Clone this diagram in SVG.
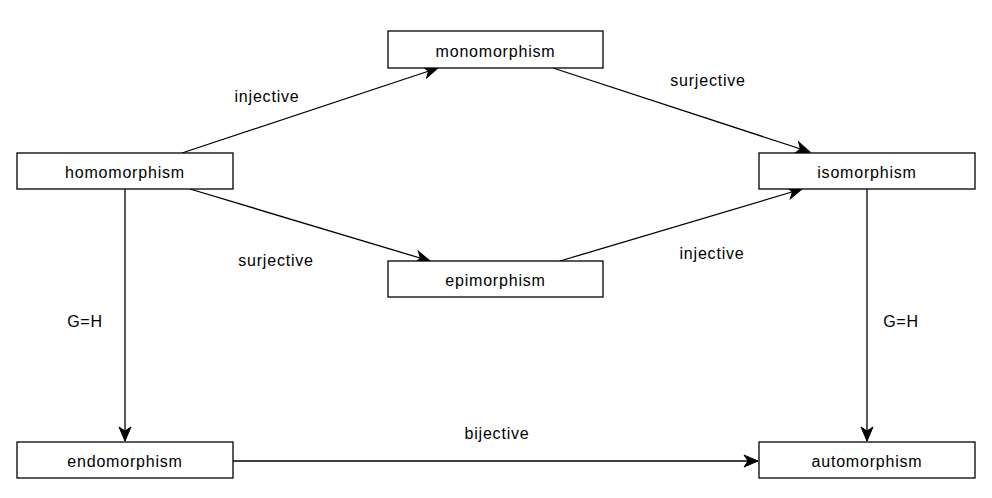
<svg xmlns="http://www.w3.org/2000/svg" width="992" height="498" viewBox="0 0 992 498">
<style>
.node rect{fill:#fff;stroke:#000;stroke-width:1.3}
text{font-family:"Liberation Sans",Arial,sans-serif;font-size:16px;letter-spacing:0.8px;fill:#000;text-anchor:middle}
.edges path{fill:none;stroke:#000;stroke-width:1.3}
</style>
<defs>
<marker id="arr" markerUnits="userSpaceOnUse" markerWidth="16" markerHeight="14" refX="14" refY="6" orient="auto" overflow="visible">
<path d="M0,0 L14,6 L0,12 L4,6 Z" fill="#000" stroke="#000" stroke-width="1"/>
</marker>
</defs>
<rect width="992" height="498" fill="#fff"/>
<g class="edges">
<path d="M182,153 L438,68" marker-end="url(#arr)"/>
<path d="M553,68 L810,152" marker-end="url(#arr)"/>
<path d="M190,189 L430,261" marker-end="url(#arr)"/>
<path d="M560,261 L802,189" marker-end="url(#arr)"/>
<path d="M125,189 L125,441" marker-end="url(#arr)"/>
<path d="M867,189 L867,441" marker-end="url(#arr)"/>
<path d="M233,461 L758,461" marker-end="url(#arr)"/>
<text x="267" y="101.5">injective</text>
<text x="708" y="85.5">surjective</text>
<text x="276" y="265.5">surjective</text>
<text x="712" y="258.5">injective</text>
<text x="85" y="326.5">G=H</text>
<text x="901" y="326.5">G=H</text>
<text x="497" y="438.5">bijective</text>
</g>
<g id="monomorphism" class="node"><rect x="388" y="31" width="215" height="37"/><text x="495.5" y="56.5">monomorphism</text></g>
<g id="homomorphism" class="node"><rect x="17" y="153" width="216" height="36"/><text x="125" y="178">homomorphism</text></g>
<g id="isomorphism" class="node"><rect x="759" y="153" width="216" height="36"/><text x="867" y="178">isomorphism</text></g>
<g id="epimorphism" class="node"><rect x="388" y="261" width="215" height="36"/><text x="495.5" y="286">epimorphism</text></g>
<g id="endomorphism" class="node"><rect x="17" y="442" width="216" height="36"/><text x="125" y="467">endomorphism</text></g>
<g id="automorphism" class="node"><rect x="759" y="442" width="216" height="36"/><text x="867" y="467">automorphism</text></g>
</svg>
